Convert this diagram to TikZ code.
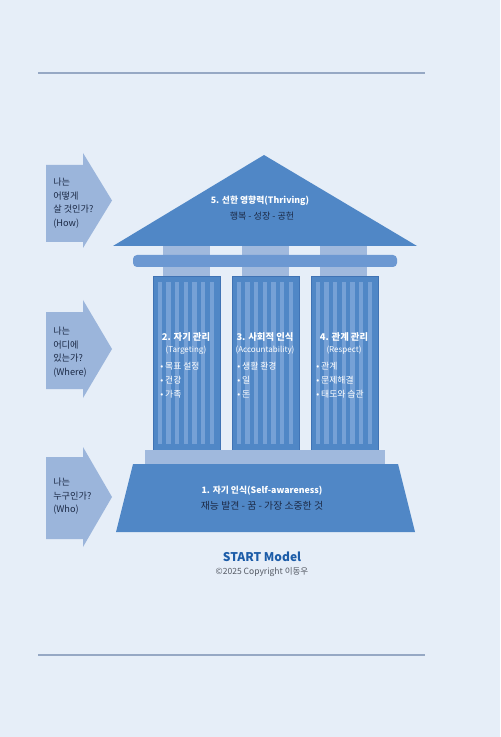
\documentclass[tikz,border=0pt]{standalone}
\usepackage{fontspec}
\setmainfont{Noto Sans CJK KR}
\usepackage{tikz}
\usetikzlibrary{positioning}
\definecolor{mybg}{RGB}{230,238,248}
\definecolor{myblue}{RGB}{80,135,198}
\definecolor{myedge}{RGB}{64,115,180}
\definecolor{mylight}{RGB}{160,185,221}
\definecolor{mybeam}{RGB}{108,152,210}
\definecolor{mystripe}{RGB}{118,161,214}
\definecolor{myarrow}{RGB}{155,181,219}
\definecolor{mydark}{RGB}{28,42,70}
\definecolor{myrule}{RGB}{150,168,196}
\definecolor{mytitle}{RGB}{28,92,168}
\definecolor{mygray}{RGB}{85,90,100}

\begin{document}
\begin{tikzpicture}[x=0.75pt,y=-0.75pt,
  head/.style={text=white, font=\bfseries\fontsize{7}{8}\selectfont},
  sub/.style={text=mydark, font=\fontsize{6.8}{8}\selectfont},
  item/.style={anchor=west, text=white, font=\fontsize{6.6}{8}\selectfont, inner sep=0pt},
  ask/.style={anchor=north west, align=left, text=mydark, inner sep=0pt,
    font=\fontsize{6.9}{10.1}\selectfont}]
  % page
  \fill[mybg] (0,0) rectangle (500,737);
  \useasboundingbox (0,0) rectangle (500,737);
  \draw[myrule, line width=0.8pt] (38,73) -- (425,73);
  \draw[myrule, line width=0.8pt] (38,655) -- (425,655);

  % question arrows
  \foreach \t/\b/\u/\v in {153/248/165/242, 300/398/312/389, 447/547/457/539}
    \fill[myarrow] (46,\u) -- (83,\u) -- (83,\t) -- (112,{(\t+\b)/2}) -- (83,\b)
      -- (83,\v) -- (46,\v) -- cycle;
  \node[ask] (how) at (53,178) {나는\\어떻게\\살 것인가?\\(How)};
  \node[ask] (where) at (53,327) {나는\\어디에\\있는가?\\(Where)};
  \node[ask] (who) at (53,478) {나는\\누구인가?\\(Who)};

  % capitals and beam
  \foreach \x in {163,242,320}
    \fill[mylight] (\x,244) rectangle ++(47,32);
  \fill[mybeam, rounded corners=3pt] (133,255) rectangle (397,267);

  % roof
  \fill[myblue] (113,246) -- (264,155) -- (417,246) -- cycle;
  \node[head, font=\bfseries\fontsize{6.6}{8}\selectfont] (roof) at (260,201) {5. 선한 영향력(Thriving)};
  \node[sub] (roofsub) at (262,216) {행복 - 성장 - 공헌};

  % pillars
  \foreach \x in {153,232,311} {
    \fill[myblue] (\x,276) rectangle ++(67,174);
    \foreach \i in {0,...,6}
      \fill[mystripe] ({\x+4.5+\i*8.7},282) rectangle ++(4.3,162);
    \draw[myedge, line width=0.6pt] (\x,276) rectangle ++(67,174);
  }
  \node[head] (p2) at (186,337) {2. 자기 관리};
  \node[head, font=\fontsize{6}{7}\selectfont] (p2sub) at (186,350) {(Targeting)};
  \node[item] (p2a) at (160,366) {• 목표 설정};
  \node[item] (p2b) at (160,380) {• 건강};
  \node[item] (p2c) at (160,394) {• 가족};

  \node[head] (p3) at (265,337) {3. 사회적 인식};
  \node[head, font=\fontsize{6}{7}\selectfont] (p3sub) at (265,350) {(Accountability)};
  \node[item] (p3a) at (237,366) {• 생활 환경};
  \node[item] (p3b) at (237,380) {• 일};
  \node[item] (p3c) at (237,394) {• 돈};

  \node[head] (p4) at (344,337) {4. 관계 관리};
  \node[head, font=\fontsize{6}{7}\selectfont] (p4sub) at (344,350) {(Respect)};
  \node[item] (p4a) at (316,366) {• 관계};
  \node[item] (p4b) at (316,380) {• 문제해결};
  \node[item] (p4c) at (316,394) {• 태도와 습관};

  % base
  \fill[mylight] (145,450) rectangle (385,464);
  \fill[myblue] (133,464) -- (398,464) -- (415,532) -- (116,532) -- cycle;
  \node[head, font=\bfseries\fontsize{6.6}{8}\selectfont] (base) at (262,491) {1. 자기 인식(Self-awareness)};
  \node[sub, font=\fontsize{7.4}{8}\selectfont] (basesub) at (262,506) {재능 발견 - 꿈 - 가장 소중한 것};

  % caption
  \node[text=mytitle, font=\bfseries\fontsize{9}{10}\selectfont] (model) at (262,557) {START Model};
  \node[text=mygray, font=\fontsize{6.4}{7}\selectfont] (copy) at (262,572) {©2025 Copyright 이동우};
\end{tikzpicture}
\end{document}
